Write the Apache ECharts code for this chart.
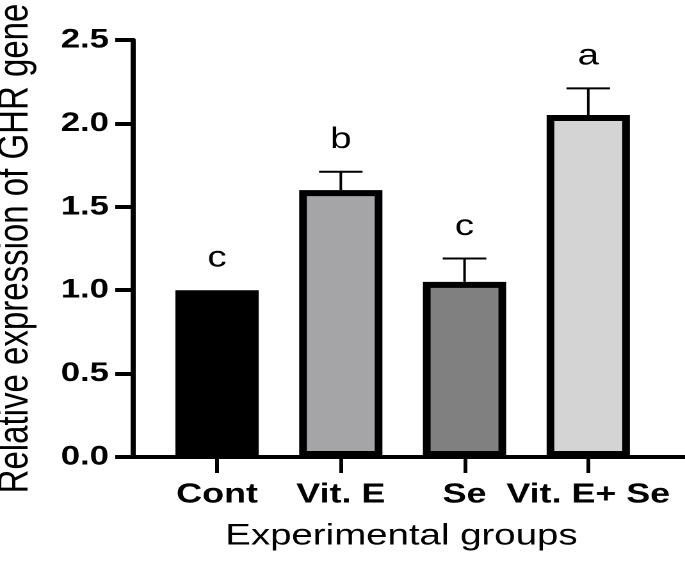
<!DOCTYPE html>
<html>
<head>
<meta charset="utf-8">
<script src="https://cdn.jsdelivr.net/npm/echarts@6/dist/echarts.min.js"></script>
<style>
  html, body { margin: 0; padding: 0; background: #fff; overflow: hidden; }
  #wrap { width: 685px; height: 567px; overflow: hidden; }
  #chart { width: 535px; height: 567px; transform: scaleX(1.2804); transform-origin: 0 0; }
</style>
</head>
<body>
<div id="wrap"><div id="chart"></div></div>
<script>
// ---- data ----
const categories = ['Cont', 'Vit. E', 'Se', 'Vit. E+ Se'];
const meanValues = [1.0, 1.6, 1.05, 2.05];
const errorTops  = [1.0, 1.71, 1.19, 2.21];
const sigLetters = ['c', 'b', 'c', 'a'];
const barColors  = ['#000000', '#a5a5a8', '#808080', '#d4d4d4'];
const yTicks     = [0, 0.5, 1.0, 1.5, 2.0, 2.5];

const FONT = '"Liberation Sans", Arial, Helvetica, sans-serif';
const positions = categories.map((_, i) => i);

const chart = echarts.init(document.getElementById('chart'), null, { renderer: 'canvas', devicePixelRatio: 2 });

const option = {
  backgroundColor: '#fff',
  animation: false,
  grid: { left: 104, right: 0, top: 40, bottom: 110, containLabel: false, outerBoundsMode: 'none' },
  xAxis: {
    type: 'value',
    min: -0.678,
    max: 3.782,
    name: 'Experimental groups',
    nameLocation: 'middle',
    nameGap: 64,
    nameTextStyle: { fontFamily: FONT, fontSize: 30, color: '#000', padding: [0, 12, 0, 0] },
    axisLine: { show: true, onZero: false, lineStyle: { color: '#000', width: 4 } },
    axisTick: { show: true, customValues: positions, length: 16, lineStyle: { color: '#000', width: 3 } },
    axisLabel: {
      customValues: positions,
      formatter: v => categories[Math.round(v)],
      margin: 24,
      fontFamily: FONT, fontSize: 28, fontWeight: 'bold', color: '#000'
    },
    splitLine: { show: false }
  },
  yAxis: {
    type: 'value',
    min: yTicks[0],
    max: yTicks[yTicks.length - 1],
    interval: 0.5,
    name: 'Relative expression of GHR gene',
    nameLocation: 'middle',
    nameGap: 75,
    nameTextStyle: { fontFamily: FONT, fontSize: 33, color: '#000' },
    axisLine: { show: true, onZero: false, lineStyle: { color: '#000', width: 4 } },
    axisTick: { show: true, length: 14, lineStyle: { color: '#000', width: 4 } },
    axisLabel: {
      formatter: v => v.toFixed(1),
      margin: 19,
      fontFamily: FONT, fontSize: 27, fontWeight: 'bold', color: '#000'
    },
    splitLine: { show: false }
  },
  series: [
    {
      type: 'bar',
      barWidth: 65,
      z: 2,
      data: meanValues.map((v, i) => ({
        value: [positions[i], v],
        itemStyle: { color: barColors[i], borderColor: '#000', borderWidth: 6 }
      }))
    },
    {
      type: 'custom',
      z: 1,
      data: meanValues.map((v, i) => [positions[i], v, errorTops[i]]),
      renderItem: (params, api) => {
        const x = api.value(0), v = api.value(1), e = api.value(2);
        const base = api.coord([x, v]);
        const top = api.coord([x, e]);
        const children = [];
        if (e > v) {
          children.push({ type: 'line', shape: { x1: base[0], y1: base[1], x2: base[0], y2: top[1] },
            style: { stroke: '#000', lineWidth: 2 } });
          children.push({ type: 'line', shape: { x1: base[0] - 17, y1: top[1], x2: base[0] + 17, y2: top[1] },
            style: { stroke: '#000', lineWidth: 2 } });
        }
        children.push({ type: 'text', x: base[0], y: top[1] - 17,
          style: { text: sigLetters[params.dataIndex], font: '30px ' + FONT, fill: '#000',
                   align: 'center', verticalAlign: 'bottom' } });
        return { type: 'group', children };
      }
    }
  ]
};
chart.setOption(option);
</script>
</body>
</html>
